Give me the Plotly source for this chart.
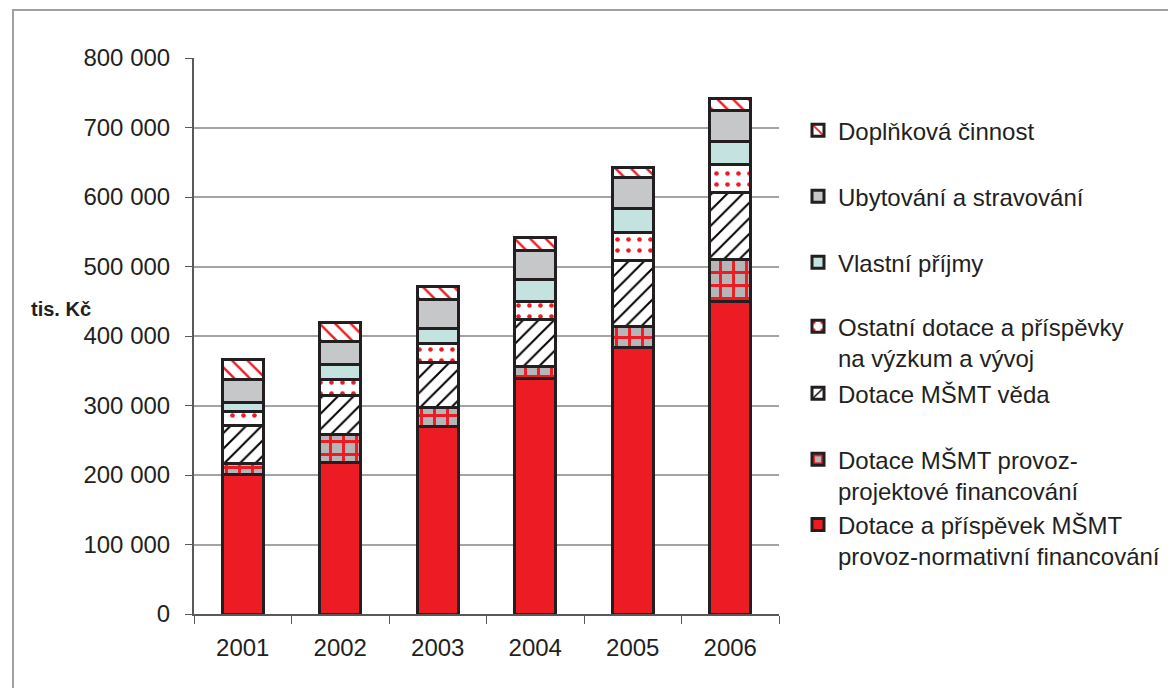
"""Stacked bar chart of income sources 2001-2006 (tis. Kč)."""

import plotly.graph_objects as go

years = ["2001", "2002", "2003", "2004", "2005", "2006"]

# series values, bottom of the stack first
normativni = [201000, 218000, 269500, 339000, 383700, 449600]
projektove = [15300, 39900, 27800, 17300, 30300, 60500]
veda = [55300, 57200, 64800, 66900, 94600, 96100]
ostatni_vav = [19600, 22100, 26500, 26800, 40800, 40800]
vlastni = [13000, 22000, 22500, 31300, 34600, 33500]
ubytovani = [33700, 33200, 41300, 41800, 43800, 44300]
doplnkova = [28800, 26500, 19200, 19100, 14400, 16800]

OUTLINE = "#231f20"
RED = "#ed1c24"
FONT = "Liberation Sans, Arial, sans-serif"

# page body has an 8px margin, so figure pixels = page pixels - 8
OFF = 8
W, H = 1176, 688
L, T = 194 - OFF, 58 - OFF
PW, PH = 585, 555.6
R, B = W - L - PW, H - T - PH


def px_x(x):
    return (x - OFF - L) / PW


def px_y(y):
    return (T + PH - (y - OFF)) / PH


def patterned(bg, shape, fg, size, solidity):
    return dict(color=bg, pattern=dict(shape=shape, fgcolor=fg, bgcolor=bg,
                                       fillmode="overlay", fgopacity=1,
                                       size=size, solidity=solidity))


series = [
    ("Dotace a příspěvek MŠMT<br>provoz-normativní financování", normativni,
     dict(color=RED)),
    ("Dotace MŠMT provoz-<br>projektové financování", projektove,
     patterned("#b4b6b8", "+", RED, 13, 0.4)),
    ("Dotace MŠMT věda", veda, patterned("white", "/", "black", 11, 0.18)),
    ("Ostatní dotace a příspěvky<br>na výzkum a vývoj", ostatni_vav,
     patterned("white", ".", RED, 11, 0.14)),
    ("Vlastní příjmy", vlastni, dict(color="#c3e2e0")),
    ("Ubytování a stravování", ubytovani, dict(color="#c6c7c9")),
    ("Doplňková činnost", doplnkova, patterned("white", "\\", RED, 11, 0.22)),
]

# y pixel of the first legend line, top entry first
legend_rows = [127, 193, 259, 323, 390, 456, 521]

fig = go.Figure()
legends = {}
for i, (name, vals, marker) in enumerate(series):
    key = "legend" if i == 0 else f"legend{i + 1}"
    marker["line"] = dict(color=OUTLINE, width=3)
    fig.add_trace(go.Bar(x=years, y=vals, name=name, marker=marker, width=0.42,
                         legend=key, showlegend=True))
    row = legend_rows[len(series) - 1 - i]
    legends[key] = dict(x=px_x(798), y=px_y(row - 19), xanchor="left", yanchor="top",
                        bgcolor="rgba(0,0,0,0)", font=dict(size=24, color=OUTLINE),
                        valign="top", visible=True)

fig.update_layout(
    barmode="stack",
    width=W,
    height=H,
    margin=dict(l=L, r=R, t=T, b=B),
    paper_bgcolor="white",
    plot_bgcolor="white",
    showlegend=True,
    separators=", ",
    font=dict(family=FONT, size=24, color=OUTLINE),
    xaxis=dict(showline=True, linecolor="#58595b", linewidth=2, ticks="outside",
               tickson="boundaries", ticklen=8, tickcolor="#58595b",
               ticklabelstandoff=11, showgrid=False),
    yaxis=dict(range=[0, 800000], dtick=100000, tickformat=",d", showline=True,
               linecolor="#58595b", linewidth=2, ticks="outside", ticklen=7,
               tickcolor="#58595b", gridcolor="#a2a4a7", gridwidth=2,
               ticklabelstandoff=10, zeroline=False),
    annotations=[dict(text="<b>tis. Kč</b>", x=px_x(61), y=px_y(309), xref="paper",
                      yref="paper", xanchor="center", yanchor="middle",
                      showarrow=False, font=dict(size=20))],
    shapes=[dict(type="rect", xref="paper", yref="paper", x0=px_x(13), x1=px_x(1195),
                 y0=px_y(705), y1=px_y(10), line=dict(color="#a0a0a0", width=2),
                 layer="below")],
    **legends,
)

fig.write_html("out.html")
